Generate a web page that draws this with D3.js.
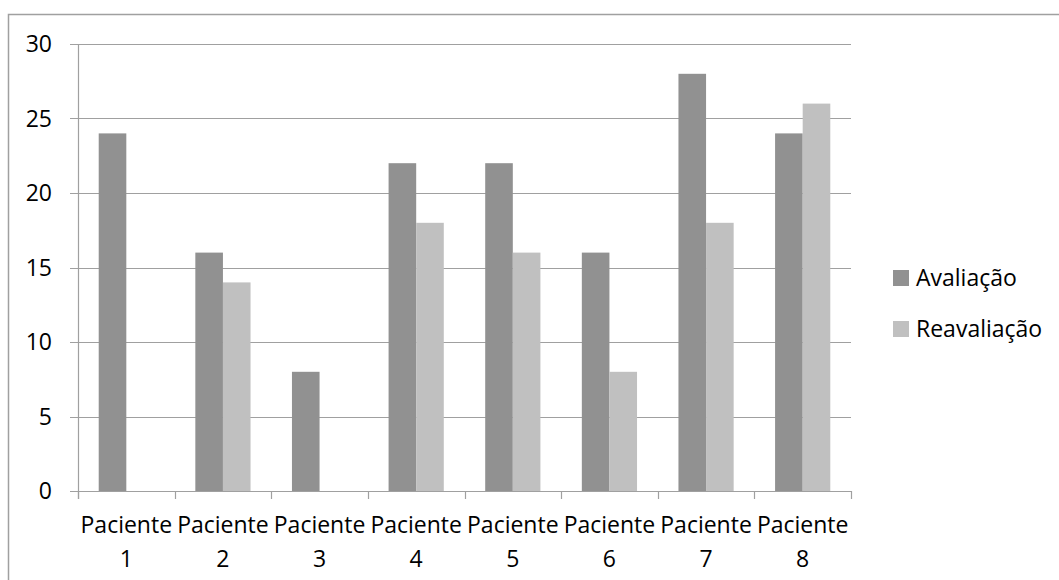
<!DOCTYPE html>
<html>
<head>
<meta charset="utf-8">
<script src="https://cdn.jsdelivr.net/npm/d3@7"></script>
<style>
  html, body { margin: 0; padding: 0; background: #fff; }
  svg { display: block; font-family: "Open Sans", sans-serif; }
</style>
</head>
<body>
<svg id="chart" width="1059" height="580"></svg>
<script>
const categories = ["Paciente 1", "Paciente 2", "Paciente 3", "Paciente 4", "Paciente 5", "Paciente 6", "Paciente 7", "Paciente 8"];
const seriesNames = ["Avaliação", "Reavaliação"];
const avaliacao = [24, 16, 8, 22, 22, 16, 28, 24];
const reavaliacao = [0, 14, 0, 18, 16, 8, 18, 26];
const yTicks = [0, 5, 10, 15, 20, 25, 30];
const colors = ["#919191", "#c0c0c0"];

const svg = d3.select("#chart");
const pLeft = 78, pRight = 851, pTop = 44, pBottom = 491;

// outer chart border (extends past right/bottom edges)
svg.append("rect").attr("x", 8.5).attr("y", 14.5).attr("width", 1060).attr("height", 580)
  .attr("fill", "none").attr("stroke", "#a0a0a0").attr("stroke-width", 1.5);

const y = d3.scaleLinear().domain([0, 30]).range([pBottom, pTop]);
const x0 = d3.scaleBand().domain(categories).range([pLeft, pRight]).paddingInner(0).paddingOuter(0);
const x1 = d3.scaleBand().domain(seriesNames).range([0, x0.bandwidth()]).paddingInner(0).paddingOuter(0.75);

// gridlines
svg.append("g").selectAll("line").data(yTicks).join("line")
  .attr("x1", pLeft - 8).attr("x2", pRight)
  .attr("y1", d => Math.round(y(d)) + 0.5).attr("y2", d => Math.round(y(d)) + 0.5)
  .attr("stroke", "#a0a0a0").attr("stroke-width", 1.2);

// y labels
svg.append("g").selectAll("text").data(yTicks).join("text")
  .attr("x", 52).attr("y", d => y(d)).attr("dy", "0.35em")
  .attr("text-anchor", "end").attr("font-size", 23).attr("fill", "#000")
  .text(d => d);

// bars
const data = categories.map((c, i) => ({ cat: c, vals: [avaliacao[i], reavaliacao[i]] }));
const groups = svg.append("g").selectAll("g").data(data).join("g")
  .attr("transform", d => `translate(${x0(d.cat)},0)`);
groups.selectAll("rect").data(d => d.vals.map((v, j) => ({ v, s: seriesNames[j], j })))
  .join("rect")
  .attr("x", d => x1(d.s)).attr("width", x1.bandwidth())
  .attr("y", d => y(d.v)).attr("height", d => y(0) - y(d.v))
  .attr("fill", d => colors[d.j]);

// y axis line
svg.append("line").attr("x1", pLeft + 0.5).attr("x2", pLeft + 0.5).attr("y1", pTop).attr("y2", pBottom + 8)
  .attr("stroke", "#a0a0a0").attr("stroke-width", 1.2);
// x axis line
svg.append("line").attr("x1", pLeft - 8).attr("x2", pRight).attr("y1", pBottom + 0.5).attr("y2", pBottom + 0.5)
  .attr("stroke", "#a0a0a0").attr("stroke-width", 1.2);
// x ticks at boundaries
const bounds = categories.map(c => x0(c)).concat([pRight]);
svg.append("g").selectAll("line").data(bounds).join("line")
  .attr("x1", d => Math.round(d) + 0.5).attr("x2", d => Math.round(d) + 0.5)
  .attr("y1", pBottom).attr("y2", pBottom + 8)
  .attr("stroke", "#a0a0a0").attr("stroke-width", 1.2);

// x labels (two lines)
const xl = svg.append("g").selectAll("text").data(categories).join("text")
  .attr("text-anchor", "middle").attr("font-size", 23).attr("fill", "#000");
xl.each(function(d) {
  const parts = d.split(" ");
  const t = d3.select(this);
  const cx = x0(d) + x0.bandwidth() / 2;
  t.append("tspan").attr("x", cx).attr("y", 533).text(parts[0]);
  t.append("tspan").attr("x", cx).attr("y", 567).text(parts[1]);
});

// legend
const legY = [286, 337];
const leg = svg.append("g").selectAll("g").data(seriesNames).join("g");
leg.append("rect").attr("x", 893).attr("y", (d, i) => legY[i] - 16).attr("width", 16).attr("height", 16)
  .attr("fill", (d, i) => colors[i]);
leg.append("text").attr("x", 916).attr("y", (d, i) => legY[i])
  .attr("font-size", 23).attr("fill", "#000").text(d => d);
</script>
</body>
</html>
